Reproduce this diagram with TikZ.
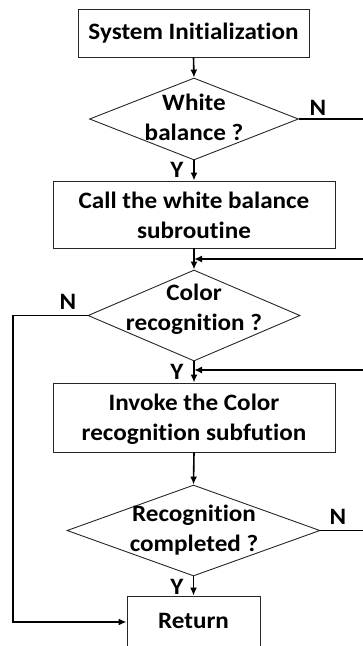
\documentclass[tikz,border=0pt]{standalone}
\usepackage{fontspec}
\setmainfont{Carlito}[FakeStretch=1.07, Ligatures=NoCommon]
\usetikzlibrary{shapes.geometric,arrows.meta}
\tikzset{
  box/.style={draw=black!85, line width=0.9pt, rectangle, inner sep=0pt},
  dia/.style={draw=black!85, line width=0.9pt, diamond, inner sep=0pt},
  txt/.style={align=center, font=\fontsize{23.5}{30}\selectfont\bfseries, inner sep=0pt},
  lab/.style={font=\fontsize{23.5}{26}\selectfont\bfseries, inner sep=0pt},
  conn/.style={line width=1.6pt, -{Latex[length=8pt,width=7pt]}},
  plain/.style={line width=1.6pt},
}
\begin{document}
\begin{tikzpicture}[x=1pt,y=-1pt]
\useasboundingbox (0,0) rectangle (363,646);
% boxes
\node[box, minimum width=231pt, minimum height=48pt] (init) at (193.5,33) {};
\node[txt] (initt) at (193.5,33) {System Initialization};
\node[dia, minimum width=209pt, minimum height=82pt] (d1) at (194,119) {};
\node[txt] (d1t) at (194,117) {White\\balance ?};
\node[box, minimum width=282pt, minimum height=67pt] (b2) at (194,214.5) {};
\node[txt] (b2t) at (194,215) {Call the white balance\\subroutine};
\node[dia, minimum width=212pt, minimum height=91pt] (d2) at (194,315.5) {};
\node[txt] (d2t) at (194,309) {Color\\recognition ?};
\node[box, minimum width=282pt, minimum height=69pt] (b3) at (194,417.5) {};
\node[txt] (b3t) at (194,419) {Invoke the Color\\recognition subfution};
\node[dia, minimum width=253pt, minimum height=91pt] (d3) at (193.5,530.5) {};
\node[txt] (d3t) at (194,530) {Recognition\\completed ?};
\node[box, minimum width=133pt, minimum height=52pt] (ret) at (193.5,622) {};
\node[txt] (rett) at (193.5,621) {Return};
% coordinates
\coordinate (r1) at (363,119);
\coordinate (r2s) at (363,259);
\coordinate (r2e) at (194,259);
\coordinate (r3s) at (363,370);
\coordinate (r3e) at (194,370);
\coordinate (r4) at (363,530.5);
\coordinate (l1) at (13,315.5);
\coordinate (l2) at (13,622);
% connectors
\draw[conn] (init.south) -- (d1.north);
\draw[conn] (d1.south) -- (b2.north);
\draw[conn] (b2.south) -- (d2.north);
\draw[conn] (d2.south) -- (b3.north);
\draw[conn] (b3.south) -- (d3.north);
\draw[conn] (d3.south) -- (ret.north);
\draw[plain] (d1.east) -- (r1);
\draw[conn] (r2s) -- (r2e);
\draw[conn] (r3s) -- (r3e);
\draw[plain] (d3.east) -- (r4);
\draw[conn] (d2.west) -- (l1) -- (l2) -- (ret.west);
% labels
\node[lab] (n1) at (318,108) {N};
\node[lab] (y1) at (177,170) {Y};
\node[lab] (n2) at (68,302) {N};
\node[lab] (y2) at (177,372) {Y};
\node[lab] (n3) at (338,517) {N};
\node[lab] (y3) at (177,587) {Y};
\end{tikzpicture}
\end{document}
